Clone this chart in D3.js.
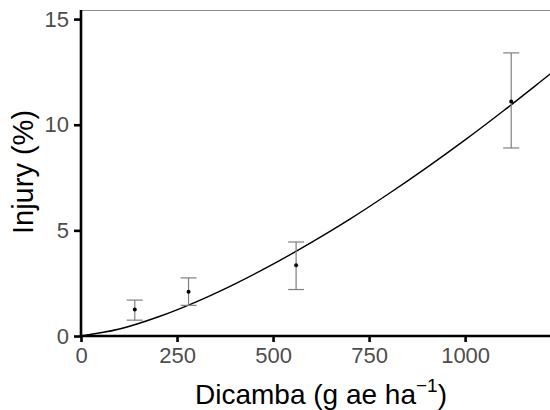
<!DOCTYPE html>
<html><head><meta charset="utf-8">
<script src="https://cdn.jsdelivr.net/npm/d3@7"></script>
<style>body{margin:0;background:#fff}text{font-family:"Liberation Sans",Arial,sans-serif}</style>
</head><body><svg id="c" width="550" height="410"></svg>
<script>
const doses = [140, 280, 560, 1120];
const injury = [1.25, 2.1, 3.35, 11.1];
const errLow = [0.75, 1.45, 2.2, 8.9];
const errHigh = [1.7, 2.75, 4.45, 13.4];
const curveX = [0, 100, 200, 300, 400, 500, 600, 700, 800, 900, 1000, 1100, 1200, 1225];
const curveY = [0, 0.33, 0.9, 1.62, 2.46, 3.4, 4.43, 5.53, 6.72, 7.97, 9.28, 10.66, 12.09, 12.45];
const xTicks = [0, 250, 500, 750, 1000];
const yTicks = [0, 5, 10, 15];

const svg = d3.select("#c");
const L = 81, R = 550, T = 10, B = 336;
const x = d3.scaleLinear().domain([0, 1221]).range([L, R]);
const y = d3.scaleLinear().domain([0, 15.43]).range([B, T]);

// top border
svg.append("line").attr("x1", L).attr("x2", R).attr("y1", T + 0.5).attr("y2", T + 0.5)
  .attr("stroke", "#8c8c8c").attr("stroke-width", 1);

// curve
svg.append("path").datum(curveX.map((d, i) => [d, curveY[i]]))
  .attr("d", d3.line().x(d => x(d[0])).y(d => y(d[1])).curve(d3.curveMonotoneX))
  .attr("fill", "none").attr("stroke", "#000").attr("stroke-width", 1.4);

// error bars
const g = svg.append("g").attr("stroke", "#7f7f7f").attr("stroke-width", 1.2);
doses.forEach((d, i) => {
  g.append("line").attr("x1", x(d)).attr("x2", x(d)).attr("y1", y(errLow[i])).attr("y2", y(errHigh[i]));
  [errLow[i], errHigh[i]].forEach(v => g.append("line")
    .attr("x1", x(d) - 8).attr("x2", x(d) + 8).attr("y1", y(v)).attr("y2", y(v)));
});
svg.selectAll("circle.p").data(doses).join("circle")
  .attr("cx", d => x(d)).attr("cy", (d, i) => y(injury[i])).attr("r", 2).attr("fill", "#000");

// axes
const xa = svg.append("g").attr("transform", `translate(0,${B})`)
  .call(d3.axisBottom(x).tickValues(xTicks).tickSize(6).tickPadding(5).tickFormat(d3.format("d")));
const ya = svg.append("g").attr("transform", `translate(${L},0)`)
  .call(d3.axisLeft(y).tickValues(yTicks).tickSize(7).tickPadding(5).tickFormat(d3.format("d")));
[xa, ya].forEach(a => {
  a.select(".domain").attr("stroke", "#000").attr("stroke-width", 2.6);
  a.selectAll(".tick line").attr("stroke", "#000").attr("stroke-width", 2.6);
  a.selectAll(".tick text").attr("fill", "#4d4d4d").style("font-size", "22px");
});
xa.select(".domain").attr("d", `M${L},0H${R}`);
ya.select(".domain").attr("d", `M0,${B}V${T}`);

// titles
svg.append("text").attr("x", 321).attr("y", 404).attr("text-anchor", "middle")
  .style("font-size", "28px").attr("fill", "#000")
  .html('Dicamba (g ae ha<tspan dy="-12" font-size="19px">\u22121</tspan><tspan dy="12">)</tspan>');
svg.append("text").attr("transform", "translate(33,172) rotate(-90)").attr("text-anchor", "middle")
  .style("font-size", "29px").attr("fill", "#000").text("Injury (%)");
</script></body></html>
